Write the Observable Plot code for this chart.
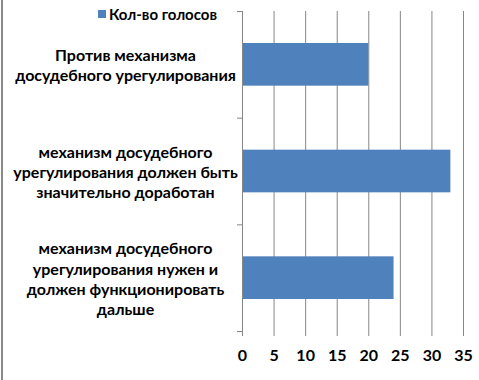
<!DOCTYPE html>
<html>
<head>
<meta charset="utf-8">
<script src="https://cdn.jsdelivr.net/npm/d3@7"></script>
<script src="https://cdn.jsdelivr.net/npm/@observablehq/plot@0.6"></script>
<style>
  html, body { margin: 0; padding: 0; background: #fff; }
  #wrap { position: relative; width: 479px; height: 380px; overflow: hidden; font-family: Lato, "Open Sans", sans-serif; }
  #border { position: absolute; left: 1px; top: 0; width: 0; height: 380px; border-left: 2px solid #8a8a8a; }
  #legend { position: absolute; left: 98px; top: 5px; font-weight: bold; font-size: 15px; color: #000; display: flex; align-items: center; white-space: nowrap; }
  #legend .sw { width: 8px; height: 8px; background: #4F81BD; margin-right: 3px; }
</style>
</head>
<body>
<div id="wrap">
  <div id="border"></div>
  <div id="legend"><span class="sw"></span><span id="legendText"></span></div>
</div>
<script>
const seriesName = "Кол-во голосов";
const categories = [
  "Против механизма\nдосудебного урегулирования",
  "механизм досудебного\nурегулирования должен быть\nзначительно доработан",
  "механизм досудебного\nурегулирования нужен и\nдолжен функционировать\nдальше"
];
const values = [20, 33, 24];
const xTicks = [0, 5, 10, 15, 20, 25, 30, 35];

const data = categories.map((c, i) => ({category: c, value: values[i], i}));
const boundaries = d3.range(categories.length + 1);

document.getElementById("legendText").textContent = seriesName;

const gray = "#868686";
const chart = Plot.plot({
  width: 479,
  height: 380,
  marginLeft: 242,
  marginRight: 16,
  marginTop: 11,
  marginBottom: 49,
  style: {fontFamily: "Lato, 'Open Sans', sans-serif", fontWeight: "bold", fontSize: "16px", color: "#000", background: "transparent"},
  x: {domain: [0, 35], label: null},
  y: {domain: [0, categories.length], reverse: true, label: null},
  marks: [
    Plot.gridX(xTicks.filter(t => t > 0), {stroke: gray, strokeOpacity: 1, strokeWidth: 1}),
    Plot.rectX(data, {x1: 0, x2: "value", y1: d => d.i + 0.3, y2: d => d.i + 0.7, fill: "#4F81BD"}),
    Plot.ruleX([0], {stroke: gray, strokeWidth: 1}),
    Plot.axisY({ticks: boundaries, tickSize: 5, tickFormat: () => "", stroke: gray, strokeOpacity: 1, label: null}),
    Plot.axisX({ticks: xTicks, tickSize: 5, tickPadding: 13, tickFormat: d => String(d), stroke: gray, strokeOpacity: 1, fill: "#000", fontSize: 16, label: null}),
    Plot.text(data, {y: d => d.i + 0.5, text: "category", frameAnchor: "left", dx: -117, textAnchor: "middle", lineHeight: 1.27, fill: "#000", fontSize: 16, fontWeight: "bold"})
  ]
});
document.getElementById("wrap").appendChild(chart);
chart.style.position = "absolute";
chart.style.left = "0";
chart.style.top = "0";
</script>
</body>
</html>
